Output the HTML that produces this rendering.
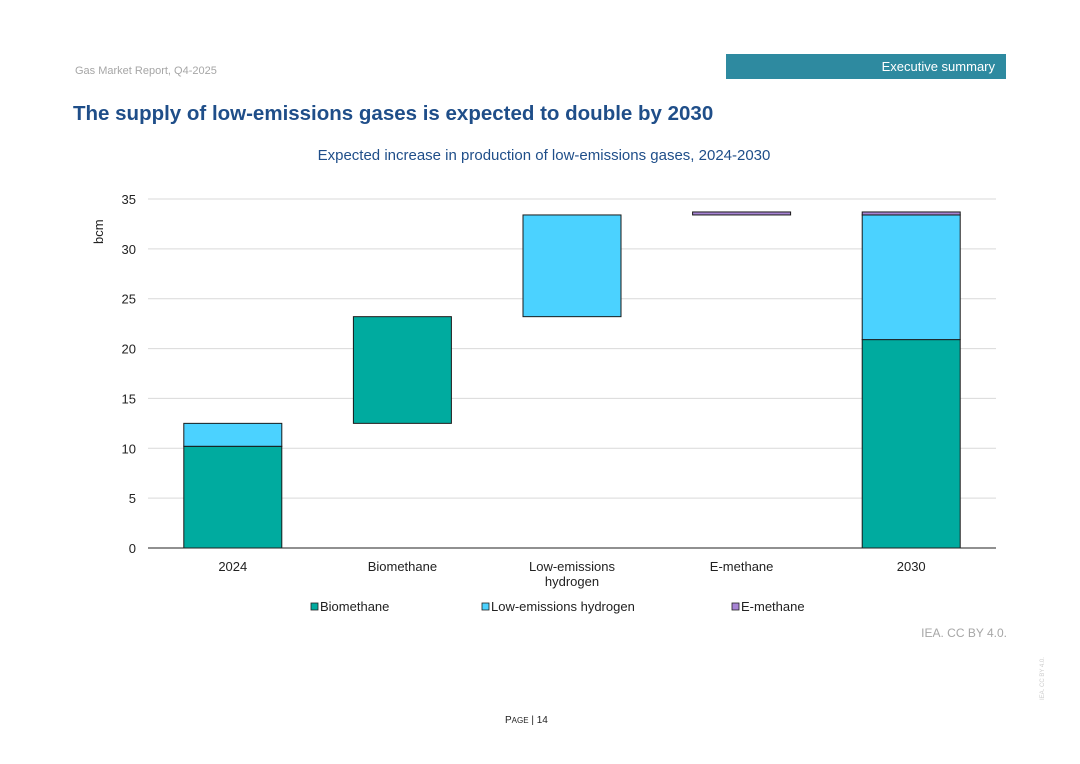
<!DOCTYPE html>
<html><head><meta charset="utf-8"><style>
body{margin:0;width:1080px;height:764px;background:#fff;font-family:"Liberation Sans",Arial,sans-serif;position:relative;overflow:hidden}
.abs{position:absolute}
</style></head><body>
<div class="abs" style="left:75px;top:65px;font-size:11px;color:#a6a6a6">Gas Market Report, Q4-2025</div>
<div class="abs" style="left:726px;top:54px;width:280px;height:25px;background:#2e8aa0;color:#fff;font-size:13px;line-height:25px;text-align:right;box-sizing:border-box;padding-right:11px">Executive summary</div>
<div class="abs" style="left:73px;top:102px;font-size:20.5px;font-weight:bold;color:#1f4e89">The supply of low-emissions gases is expected to double by 2030</div>
<div class="abs" style="left:0;width:1088px;top:147px;text-align:center;font-size:15px;color:#1f4e89">Expected increase in production of low-emissions gases, 2024-2030</div>
<svg class="abs" style="left:0;top:0" width="1080" height="764" id="chart"></svg>
<div class="abs" style="left:900px;top:626px;font-size:12px;color:#a6a6a6;width:107px;text-align:right">IEA. CC BY 4.0.</div>
<div class="abs" style="left:505px;top:715px;font-size:10px;color:#222">P<span style="font-size:8px">AGE</span> | 14</div>
<div class="abs" style="left:1040px;top:700px;font-size:6px;color:#ccc;transform:rotate(-90deg);transform-origin:0 0;white-space:nowrap">IEA. CC BY 4.0.</div>
<script>
const categories=["2024","Biomethane","Low-emissions|hydrogen","E-methane","2030"];
const seriesNames=["Biomethane","Low-emissions hydrogen","E-methane"];
const colors=["#00ab9f","#4bd2ff","#a784d4"];
// [category index, series index, start, end]
const bioBase=[0,0,0,10.2];
const h2Base=[0,1,10.2,12.5];
const bioInc=[2,0,12.5,23.2];
const h2Inc=[2,1,23.2,33.4];
const emInc=[3,2,33.4,33.7];
const bio2030=[4,0,0,20.9];
const h22030=[4,1,20.9,33.4];
const em2030=[4,2,33.4,33.7];
const segments=[bioBase,h2Base,[1,0,12.5,23.2],[2,1,23.2,33.4],emInc,bio2030,h22030,em2030];
const yTicks=[0,5,10,15,20,25,30,35];
const svg=document.getElementById('chart');
const NS='http://www.w3.org/2000/svg';
const x0=148,x1=996,y0=548,y1=199,yMax=35;
const y=v=>y0-(v/yMax)*(y0-y1);
const bw=(x1-x0)/categories.length;
const xc=i=>x0+bw*(i+0.5);
function mk(t,a){const e=document.createElementNS(NS,t);for(const k in a)e.setAttribute(k,a[k]);svg.appendChild(e);return e;}
yTicks.forEach(v=>{
  const l=mk('line',{x1:x0,x2:x1,y1:y(v),y2:y(v),stroke:'#d9d9d9','stroke-width':1});
  
  
  const t=mk('text',{x:136,y:y(v)+5,'text-anchor':'end','font-size':13,fill:'#222','font-family':'Liberation Sans'});
  t.textContent=v;
  
  
});
const yt=mk('text',{x:0,y:0,'font-size':13,fill:'#222',transform:'translate(103,244) rotate(-90)','font-family':'Liberation Sans'});
yt.textContent='bcm';


segments.forEach(s=>{
  const r=mk('rect',{x:xc(s[0])-49,width:98,y:y(s[3]),height:Math.max(y(s[2])-y(s[3]),1),fill:colors[s[1]],stroke:'#1a1a1a','stroke-width':1});
  
  
});
const ax=mk('line',{x1:x0,x2:x1,y1:y0,y2:y0,stroke:'#222','stroke-width':1});


categories.forEach((c,i)=>{
  c.split('|').forEach((p,j)=>{
    const t=mk('text',{x:xc(i),y:571+j*15,'text-anchor':'middle','font-size':13,fill:'#222','font-family':'Liberation Sans'});
    t.textContent=p;
    
    
  });
});
const lx=[311,482,732];
seriesNames.forEach((n,i)=>{
  const r=mk('rect',{x:lx[i],y:603,width:7,height:7,fill:colors[i],stroke:'#222','stroke-width':0.8});
  
  
  const t=mk('text',{x:lx[i]+9,y:611,'font-size':13,fill:'#222','font-family':'Liberation Sans'});
  t.textContent=n;
  
  
});
</script>
</body></html>
